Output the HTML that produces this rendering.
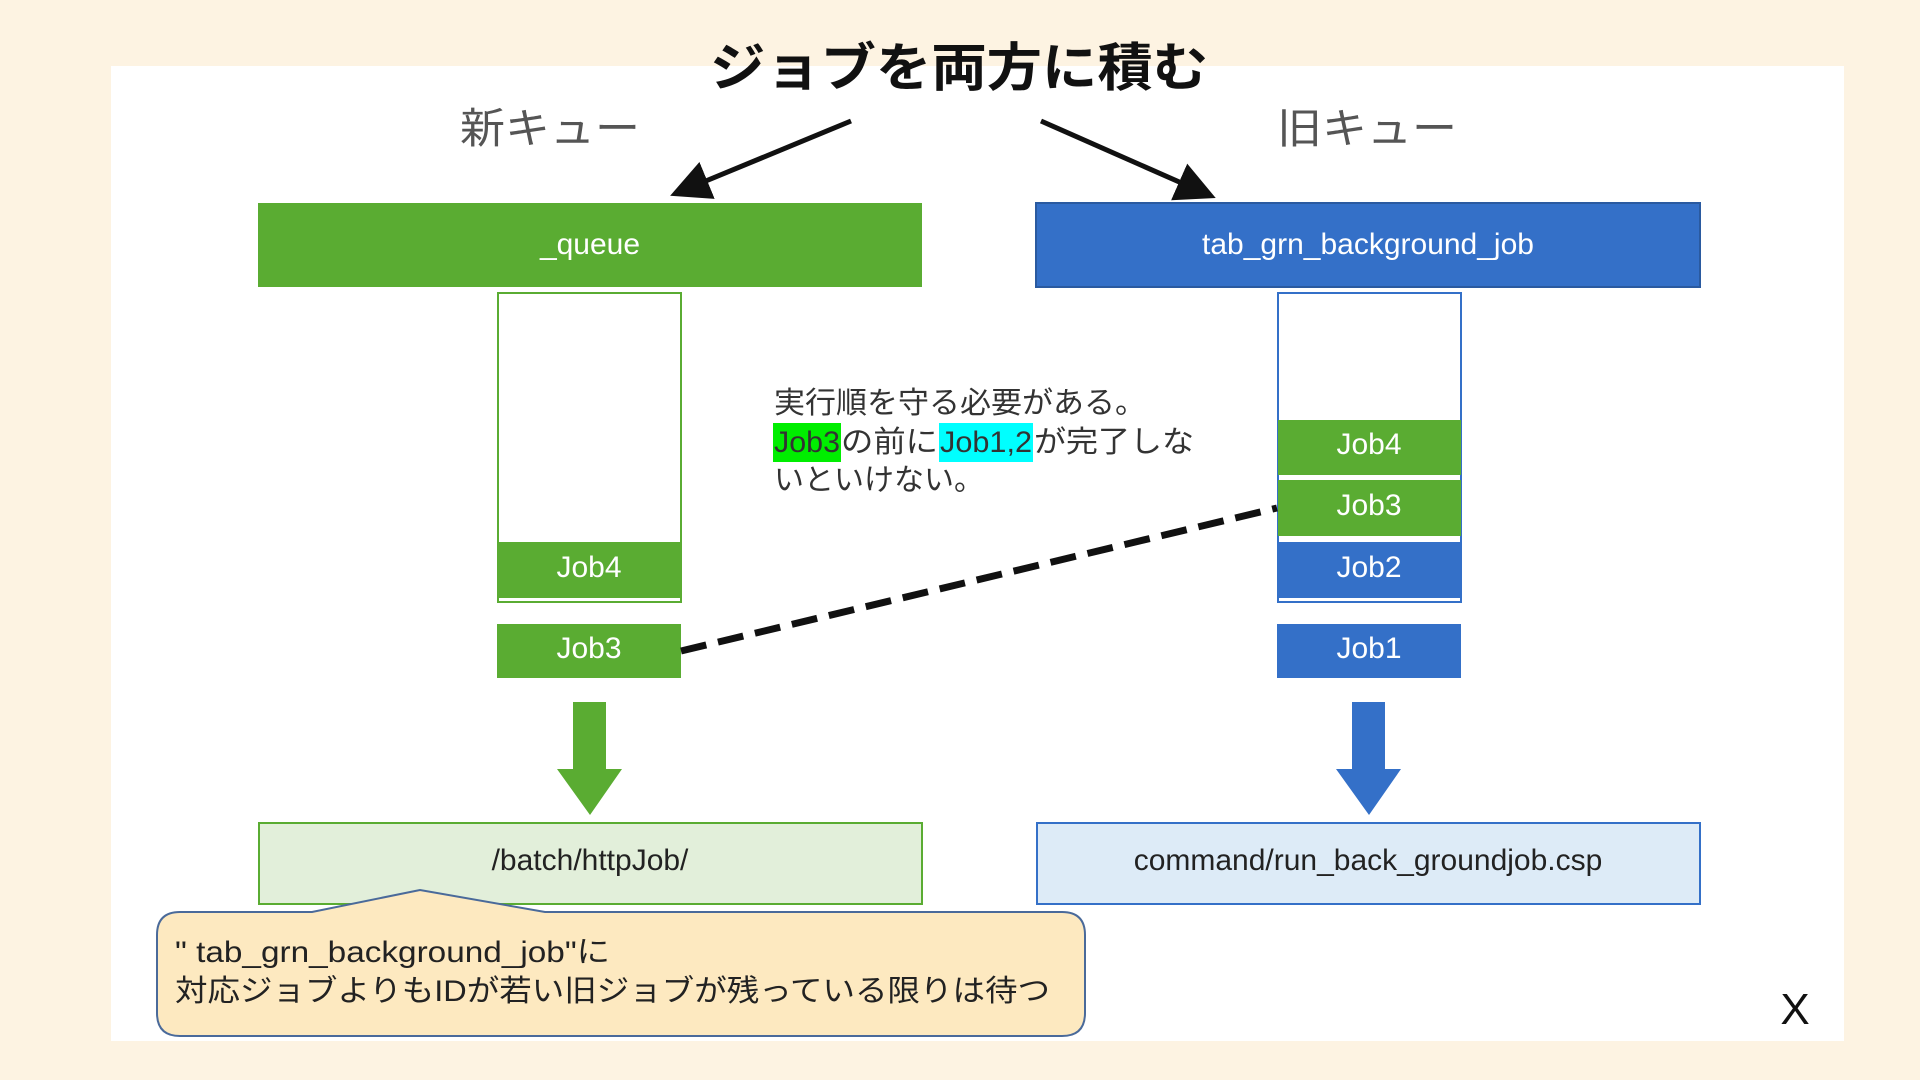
<!DOCTYPE html>
<html><head><meta charset="utf-8"><style>
html,body{margin:0;padding:0;background:#fdf3e2;}
svg{display:block}
text{font-family:"Liberation Sans","Noto Sans CJK JP",sans-serif;}
</style></head><body>
<svg width="1920" height="1080" viewBox="0 0 1920 1080" xmlns="http://www.w3.org/2000/svg">
<rect x="0" y="0" width="1920" height="1080" fill="#fdf3e2"/>
<rect x="111" y="66" width="1733" height="975" fill="#ffffff"/>
<text x="710" y="86" font-size="52" font-weight="bold" fill="#111" textLength="498" lengthAdjust="spacingAndGlyphs">ジョブを両方に積む</text>
<text x="460" y="143" font-size="42" fill="#555" textLength="180" lengthAdjust="spacingAndGlyphs">新キュー</text>
<text x="1277" y="143" font-size="42" fill="#555" textLength="180" lengthAdjust="spacingAndGlyphs">旧キュー</text>
<defs><marker id="ah" markerWidth="8" markerHeight="8" refX="5" refY="4" orient="auto" markerUnits="strokeWidth"><path d="M0,0 L8,4 L0,8 z" fill="#111"/></marker></defs>
<line x1="851" y1="121" x2="684" y2="190" stroke="#111" stroke-width="5" marker-end="url(#ah)"/>
<line x1="1041" y1="121" x2="1202" y2="192" stroke="#111" stroke-width="5" marker-end="url(#ah)"/>
<rect x="258" y="203" width="664" height="84" fill="#5aac32"/>
<text x="590" y="254" font-size="30" text-anchor="middle" fill="#fff">_queue</text>
<rect x="1036" y="203" width="664" height="84" fill="#3470c8" stroke="#2a5aa0" stroke-width="2"/>
<text x="1368" y="254" font-size="30" text-anchor="middle" fill="#fff">tab_grn_background_job</text>
<rect x="498" y="293" width="183" height="309" fill="#fff" stroke="#5aac32" stroke-width="2"/>
<rect x="498" y="542" width="183" height="56" fill="#5aac32"/>
<text x="589" y="577" font-size="30" text-anchor="middle" fill="#fff">Job4</text>
<rect x="497" y="624" width="184" height="54" fill="#5aac32"/>
<text x="589" y="658" font-size="30" text-anchor="middle" fill="#fff">Job3</text>
<rect x="1278" y="293" width="183" height="309" fill="#fff" stroke="#3470c8" stroke-width="2"/>
<rect x="1278" y="420" width="183" height="55" fill="#5aac32"/>
<text x="1369" y="454" font-size="30" text-anchor="middle" fill="#fff">Job4</text>
<rect x="1278" y="480" width="183" height="56" fill="#5aac32"/>
<text x="1369" y="515" font-size="30" text-anchor="middle" fill="#fff">Job3</text>
<rect x="1278" y="542" width="183" height="56" fill="#3470c8"/>
<text x="1369" y="577" font-size="30" text-anchor="middle" fill="#fff">Job2</text>
<rect x="1277" y="624" width="184" height="54" fill="#3470c8"/>
<text x="1369" y="658" font-size="30" text-anchor="middle" fill="#fff">Job1</text>
<line x1="681" y1="651" x2="1277" y2="508" stroke="#111" stroke-width="7" stroke-dasharray="26,12"/>
<rect x="773" y="423" width="68" height="39" fill="#00ee00"/>
<rect x="939" y="423" width="94" height="39" fill="#00ffff"/>
<g font-size="30" fill="#333">
<text x="774" y="413" textLength="372" lengthAdjust="spacingAndGlyphs">実行順を守る必要がある。</text>
<text x="774" y="452" textLength="66" lengthAdjust="spacingAndGlyphs">Job3</text>
<text x="841" y="452" textLength="97" lengthAdjust="spacingAndGlyphs">の前に</text>
<text x="940" y="452" textLength="92" lengthAdjust="spacingAndGlyphs">Job1,2</text>
<text x="1034" y="452" textLength="160" lengthAdjust="spacingAndGlyphs">が完了しな</text>
<text x="774" y="490" textLength="210" lengthAdjust="spacingAndGlyphs">いといけない。</text>
</g>
<polygon points="573,702 606,702 606,769 622,769 590,815 557,769 573,769" fill="#5aac32"/>
<polygon points="1352,702 1385,702 1385,769 1401,769 1369,815 1336,769 1352,769" fill="#3470c8"/>
<rect x="259" y="823" width="663" height="81" fill="#e2efda" stroke="#5aac32" stroke-width="2"/>
<text x="590" y="870" font-size="30" text-anchor="middle" fill="#222">/batch/httpJob/</text>
<rect x="1037" y="823" width="663" height="81" fill="#ddebf7" stroke="#3470c8" stroke-width="2"/>
<text x="1368" y="870" font-size="30" text-anchor="middle" fill="#222">command/run_back_groundjob.csp</text>
<path d="M180,912 L312,912 L420,890 L545,912 L1062,912 Q1085,912 1085,935 L1085,1013 Q1085,1036 1062,1036 L180,1036 Q157,1036 157,1013 L157,935 Q157,912 180,912 Z" fill="#fde9c0" stroke="#4a6a9a" stroke-width="2"/>
<g font-size="30" fill="#222">
<text x="175" y="962" textLength="435" lengthAdjust="spacingAndGlyphs">" tab_grn_background_job"に</text>
<text x="175" y="1001" textLength="875" lengthAdjust="spacingAndGlyphs">対応ジョブよりもIDが若い旧ジョブが残っている限りは待つ</text>
</g>
<text x="1795" y="1024" font-size="44" text-anchor="middle" fill="#111">X</text>
</svg>
</body></html>
